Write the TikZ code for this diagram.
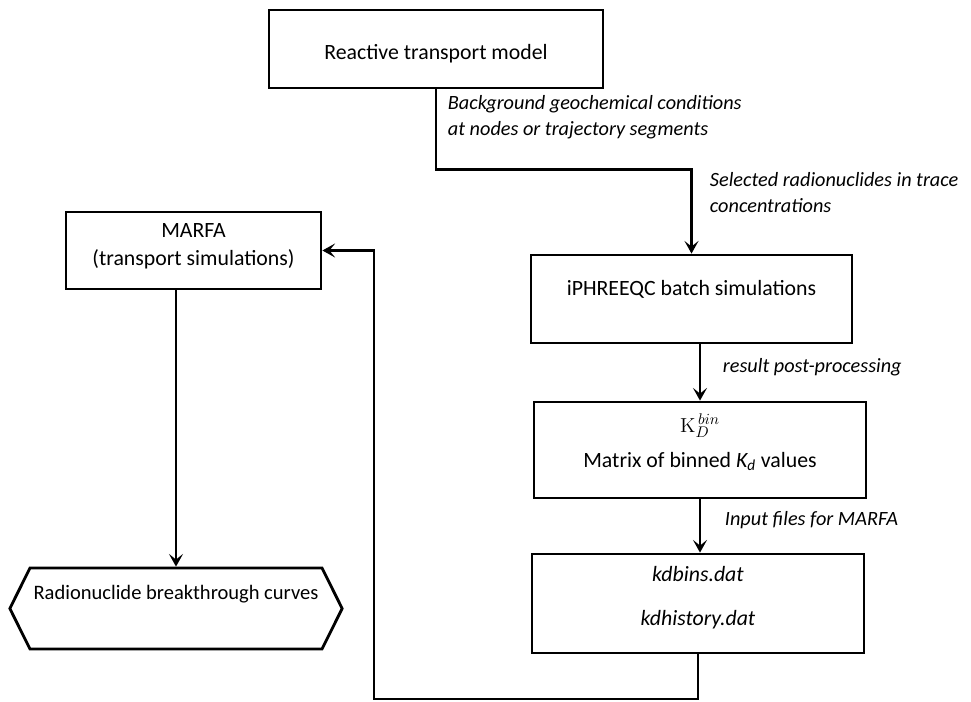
\documentclass[tikz,border=0pt]{standalone}
\usepackage[no-math]{fontspec}
\setmainfont{Carlito}
\usetikzlibrary{arrows.meta,shapes.symbols}

\newcommand\diagfont{\fontsize{15.5}{18.5}\selectfont}
\newcommand\notefont{\fontsize{14.4}{18.5}\selectfont\itshape}
\newcommand\lift[1]{\rule[-#1]{0pt}{0pt}}

\tikzset{
	block/.style={draw, line width=2pt, align=center},
	hexa/.style={block, signal, signal to=west and east, signal pointer angle=127},
	flow/.style={line width=2pt, -{Stealth[length=9pt, width=10pt, inset=4pt]}},
	lbl/.style={anchor=west, align=left, font=\notefont}
}

\begin{document}
\begin{tikzpicture}[x=0.025cm, y=-0.025cm, font=\diagfont]
			%%%%% START %%%%%
			\useasboundingbox (0,0) rectangle (971,702);
			
			\node[block, minimum width=8.35cm, minimum height=1.95cm, text height=17.3pt, text depth=3pt] (rtm) at (436,49) {Reactive transport model};
			\node[block, minimum width=6.375cm, minimum height=1.925cm] (marfa) at (193.5,250.5) {MARFA\\[1.5pt](transport simulations)\lift{8.9pt}};
			\node[block, minimum width=8.025cm, minimum height=2.2cm, text height=11pt, text depth=16.6pt] (iphr) at (691.5,299) {iPHREEQC batch simulations};
			\node[block, minimum width=8.3cm, minimum height=2.4cm] (kdm) at (700,450) {$\mathrm{K}_{D}^{\,bin}$\\[6.4pt]Matrix of binned \textit{K\textsubscript{d}} values\lift{13.5pt}};
			\node[block, minimum width=8.3cm, minimum height=2.475cm, font=\diagfont\itshape] (kdf) at (698,603.5) {kdbins.dat\\[12.5pt]kdhistory.dat\lift{10.6pt}};
			\node[hexa, inner xsep=2.5pt, minimum height=2.025cm, text height=11pt, text depth=24.4pt, font=\fontsize{14.6}{18}\selectfont] (brk) at (176,608.5) {Radionuclide breakthrough curves};
			
			\node[lbl] (geo) at (443,117) {Background geochemical conditions\\at nodes or trajectory segments};
			\node[lbl] (trace) at (705,193) {Selected radionuclides in trace\\concentrations};
			\node[lbl] (post) at (718,367) {result post-processing};
			\node[lbl] (input) at (720,520) {Input files for MARFA};
			
			\coordinate (back) at (374,699);
			
			\draw[flow] (rtm.south) -- ++(0,80) -| (iphr.north);
			\draw[flow] (kdm.north |- iphr.south) -- (kdm.north);
			\draw[flow] (kdm.south) -- (kdm.south |- kdf.north);
			\draw[flow] (kdf.south) |- (back) |- (marfa.east);
			\draw[flow] (brk.north |- marfa.south) -- (brk.north);
			
			%%%%% END %%%%%
\end{tikzpicture}
\end{document}
